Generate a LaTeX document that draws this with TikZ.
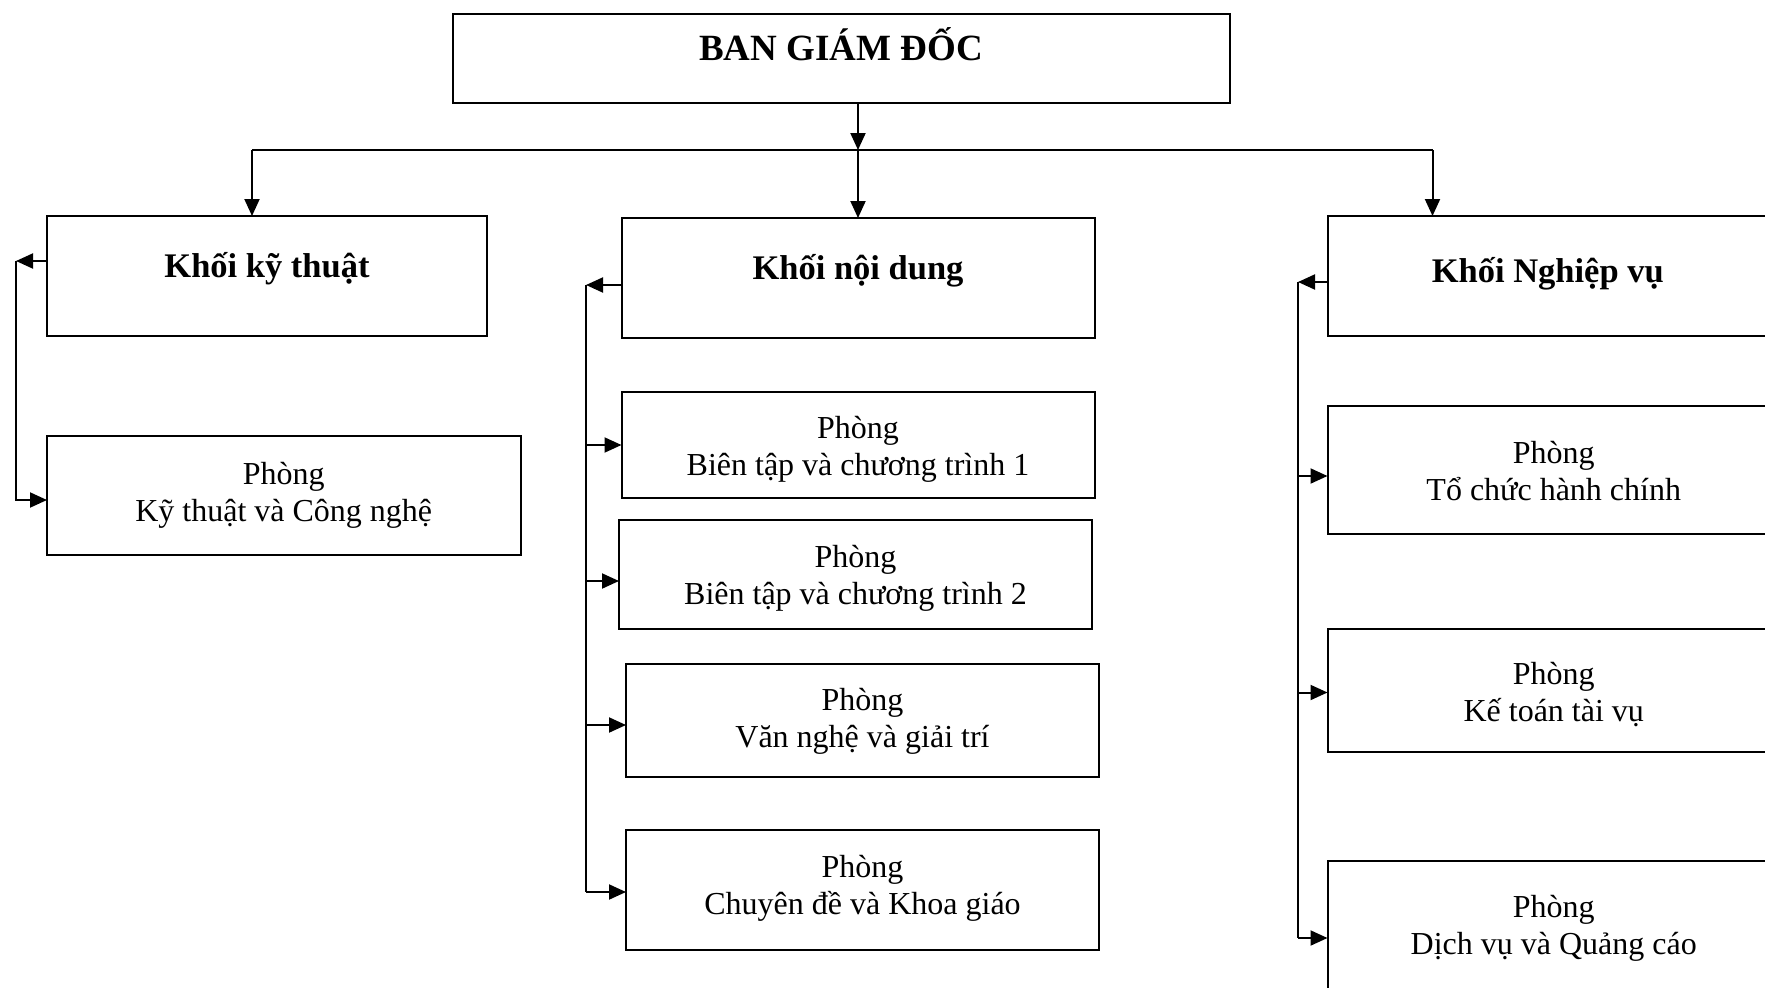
\documentclass[tikz,border=0pt]{standalone}
\usepackage{fontspec}
\setmainfont{Liberation Serif}
\usetikzlibrary{arrows.meta}
\begin{document}
\begin{tikzpicture}[x=1pt,y=-1pt,
  box/.style={draw, line width=2pt, inner sep=0pt, outer sep=0pt},
  titletext/.style={font=\fontsize{37}{40}\selectfont\bfseries, anchor=base, inner sep=0pt},
  headtext/.style={font=\fontsize{34.5}{38}\selectfont\bfseries, anchor=base, inner sep=0pt},
  unittext/.style={align=center, inner sep=0pt, font=\fontsize{32}{37}\selectfont},
  link/.style={line width=2pt},
  arr/.style={line width=2pt, -{Triangle[length=17pt,width=15pt]}}]
\useasboundingbox (0,0) rectangle (1765,988);
\clip (0,0) rectangle (1765,988);

% top level
\node[box, minimum width=777pt, minimum height=89pt] (bgd) at (841,58) {};
\node[titletext] (bgdt) at (841,60) {BAN GIÁM ĐỐC};

% the three blocks
\node[box, minimum width=440pt, minimum height=119.5pt] (kkt) at (267,275.75) {};
\node[headtext] (kktt) at (267,277) {Khối kỹ thuật};
\node[box, minimum width=473pt, minimum height=120pt] (knd) at (858,278) {};
\node[headtext] (kndt) at (858,279) {Khối nội dung};
\node[box, minimum width=440.5pt, minimum height=119.5pt] (knv) at (1547.75,275.75) {};
\node[headtext] (knvt) at (1547.75,282) {Khối Nghiệp vụ};

% departments
\node[box, minimum width=473.5pt, minimum height=119pt] (pkt) at (283.75,495.5) {};
\node[unittext] (pktt) at (pkt.center) {Phòng\\Kỹ thuật và Công nghệ};

\node[box, minimum width=473pt, minimum height=106pt] (bt1) at (858,445) {};
\node[unittext] (bt1t) at ([yshift=-4.5pt]bt1.center) {Phòng\\Biên tập và chương trình 1};
\node[box, minimum width=473pt, minimum height=109pt] (bt2) at (855.5,574.5) {};
\node[unittext] (bt2t) at ([yshift=-3.5pt]bt2.center) {Phòng\\Biên tập và chương trình 2};
\node[box, minimum width=473pt, minimum height=113pt] (vn) at (862.5,720.5) {};
\node[unittext] (vnt) at ([yshift=-1pt]vn.center) {Phòng\\Văn nghệ và giải trí};
\node[box, minimum width=473pt, minimum height=120pt] (cd) at (862.5,890) {};
\node[unittext] (cdt) at ([yshift=2pt]cd.center) {Phòng\\Chuyên đề và Khoa giáo};

\node[box, minimum width=452.5pt, minimum height=128pt] (tchc) at (1553.75,470) {};
\node[unittext] (tchct) at ([yshift=-1pt]tchc.center) {Phòng\\Tổ chức hành chính};
\node[box, minimum width=452.5pt, minimum height=123pt] (kttv) at (1553.75,690.5) {};
\node[unittext] (kttvt) at ([yshift=-4.5pt]kttv.center) {Phòng\\Kế toán tài vụ};
\node[box, minimum width=452.5pt, minimum height=131pt] (dv) at (1553.75,926.5) {};
\node[unittext] (dvt) at ([yshift=-1.5pt]dv.center) {Phòng\\Dịch vụ và Quảng cáo};

% distribution bus below the directors
\coordinate (busl) at (252,150);
\coordinate (busc) at (858,150);
\coordinate (busr) at (1432.5,150);
\draw[arr] (bgd.south -| busc) -- (busc);
\draw[link] (busl) -- (busr);
\draw[arr] (busl) -- (kkt.north -| busl);
\draw[arr] (busc) -- (knd.north -| busc);
\draw[arr] (busr) -- (knv.north -| busr);

% technical block
\coordinate (lkt) at (16,261);
\coordinate (lkb) at (16,500);
\draw[arr] (kkt.west |- lkt) -- (lkt);
\draw[arr] (lkt) -- (lkb) -- (pkt.west |- lkb);

% content block
\coordinate (mt) at (586,285);
\coordinate (mb) at (586,892);
\coordinate (m1) at (586,445);
\coordinate (m2) at (586,581);
\coordinate (m3) at (586,725);
\draw[arr] (knd.west |- mt) -- (mt);
\draw[link] (mt) -- (mb);
\draw[arr] (m1) -- (bt1.west |- m1);
\draw[arr] (m2) -- (bt2.west |- m2);
\draw[arr] (m3) -- (vn.west |- m3);
\draw[arr] (mb) -- (cd.west |- mb);

% operations block
\coordinate (rt) at (1298,282);
\coordinate (rb) at (1298,938);
\coordinate (r1) at (1298,476);
\coordinate (r2) at (1298,692.5);
\draw[arr] (knv.west |- rt) -- (rt);
\draw[link] (rt) -- (rb);
\draw[arr] (r1) -- (tchc.west |- r1);
\draw[arr] (r2) -- (kttv.west |- r2);
\draw[arr] (rb) -- (dv.west |- rb);
\end{tikzpicture}
\end{document}
